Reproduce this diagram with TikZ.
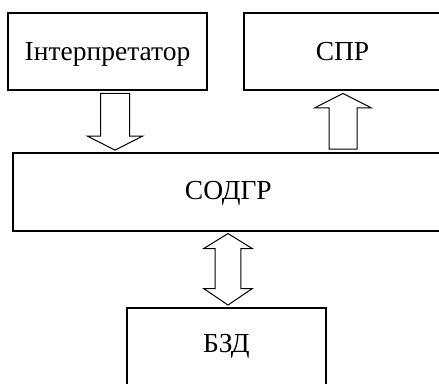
\documentclass[tikz,border=0pt]{standalone}
\usepackage{fontspec}
\setmainfont{Liberation Serif}
\usepackage{tikz}
\usetikzlibrary{calc}

\begin{document}
\begin{tikzpicture}[x=1pt, y=-1pt,
	box/.style={draw, line width=2pt, inner sep=0pt, minimum height=77.3pt, text height=18.5pt, text depth=0pt, font=\fontsize{27.5}{32}\selectfont},
	hollow/.style={draw, line width=1pt, fill=white, line join=miter}]
\useasboundingbox (0,0) rectangle (439,383);
\clip (0,0) rectangle (439,383);
\node[box, minimum width=198.4pt] (interp) at (107.5,51.3) {Інтерпретатор};
\node[box, minimum width=197pt] (spr) at (342.5,51.3) {СПР};
\node[box, minimum width=430pt, minimum height=78.3pt, text depth=4pt] (sodgr) at (228.3,191.8) {СОДГР};
\node[box, minimum width=198.2pt, minimum height=80pt, text depth=10pt] (bzd) at (226.4,348) {БЗД};
\coordinate (down) at ($(interp.south)+(7.5,2.5)$);
\coordinate (up) at ($(spr.south)+(0.5,2.5)$);
\coordinate (both) at ($(sodgr.south)+(-0.3,1.6)$);
\draw[hollow] (down) ++(-14.5,0) -- ++(0,42.7) -- ++(-13,0) -- ++(27.5,14) -- ++(27.5,-14) -- ++(-13,0) -- ++(0,-42.7) -- cycle;
\draw[hollow] (up) -- ++(28.3,14.4) -- ++(-14.3,0) -- ++(0,41.2) -- ++(-28,0) -- ++(0,-41.2) -- ++(-14.3,0) -- cycle;
\draw[hollow] (both) -- ++(24.3,15) -- ++(-11.5,0) -- ++(0,40) -- ++(11.5,0) -- ++(-24.3,16.5) -- ++(-24.3,-16.5) -- ++(11.5,0) -- ++(0,-40) -- ++(-11.5,0) -- cycle;
\end{tikzpicture}
\end{document}
